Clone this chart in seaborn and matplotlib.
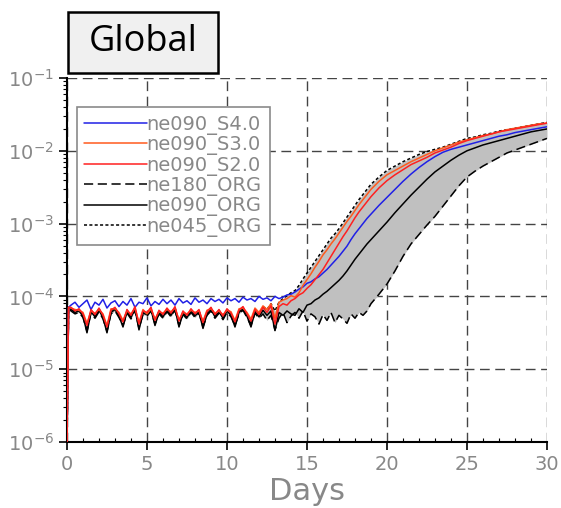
import numpy as np
import pandas as pd
import matplotlib
matplotlib.use("Agg")
import matplotlib.pyplot as plt
from matplotlib.patches import Rectangle
from matplotlib.ticker import LogLocator, MultipleLocator
import seaborn as sns

# time axis (days): start, 0.25-day steps to day 19, then 0.5-day steps to day 30
days = np.concatenate([[0.0, 0.1], np.arange(0.25, 19.01, 0.25), np.arange(19.5, 30.01, 0.5)])

# log10 of the global values
start = [-6.0, -4.15]

# days 0.25 .. 14 (noisy phase)
s40_noisy = [-4.12, -4.08, -4.15, -4.10, -4.05, -4.18, -4.08, -4.12, -4.04, -4.16, -4.09, -4.06,
             -4.14, -4.07, -4.12, -4.03, -4.15, -4.08, -4.10, -4.02, -4.13, -4.07, -4.11, -4.04,
             -4.10, -4.05, -4.12, -4.03, -4.09, -4.06, -4.11, -4.02, -4.08, -4.05, -4.10, -4.03,
             -4.07, -4.04, -4.09, -4.02, -4.06, -4.03, -4.08, -4.01, -4.05, -4.03, -4.07, -4.00,
             -4.04, -4.02, -4.06, -4.00, -4.03, -4.01, -3.98, -3.97]
s30_noisy = [-4.16, -4.18, -4.19, -4.22, -4.37, -4.20, -4.23, -4.18, -4.24, -4.40, -4.17, -4.17,
             -4.22, -4.33, -4.20, -4.24, -4.16, -4.36, -4.18, -4.24, -4.17, -4.31, -4.21, -4.23,
             -4.18, -4.21, -4.16, -4.32, -4.22, -4.24, -4.19, -4.22, -4.20, -4.34, -4.19, -4.17,
             -4.23, -4.20, -4.25, -4.19, -4.21, -4.33, -4.17, -4.16, -4.22, -4.31, -4.16, -4.22,
             -4.13, -4.18, -4.10, -4.30, -4.08, -4.05, -4.03, -3.99]
s20_noisy = [-4.15, -4.20, -4.17, -4.24, -4.40, -4.18, -4.25, -4.16, -4.26, -4.42, -4.19, -4.15,
             -4.24, -4.35, -4.18, -4.26, -4.14, -4.38, -4.20, -4.22, -4.15, -4.33, -4.19, -4.25,
             -4.16, -4.23, -4.14, -4.34, -4.20, -4.26, -4.17, -4.24, -4.18, -4.36, -4.21, -4.15,
             -4.25, -4.18, -4.27, -4.17, -4.23, -4.35, -4.19, -4.14, -4.24, -4.34, -4.18, -4.25,
             -4.15, -4.22, -4.13, -4.38, -4.14, -4.10, -4.12, -4.06]
ne180_noisy = [-4.20, -4.24, -4.22, -4.29, -4.48, -4.23, -4.30, -4.21, -4.31, -4.48, -4.24, -4.20,
               -4.29, -4.40, -4.23, -4.31, -4.19, -4.44, -4.25, -4.27, -4.20, -4.38, -4.24, -4.30,
               -4.21, -4.28, -4.19, -4.40, -4.25, -4.31, -4.22, -4.29, -4.23, -4.42, -4.26, -4.20,
               -4.30, -4.23, -4.32, -4.22, -4.28, -4.40, -4.24, -4.19, -4.29, -4.40, -4.23, -4.30,
               -4.24, -4.33, -4.26, -4.46, -4.30, -4.22, -4.36, -4.27]
ne090_noisy = [-4.18, -4.22, -4.20, -4.27, -4.50, -4.21, -4.28, -4.19, -4.29, -4.50, -4.22, -4.18,
               -4.27, -4.42, -4.21, -4.29, -4.17, -4.46, -4.23, -4.25, -4.18, -4.40, -4.22, -4.28,
               -4.19, -4.26, -4.17, -4.42, -4.23, -4.29, -4.20, -4.27, -4.21, -4.44, -4.24, -4.18,
               -4.28, -4.21, -4.30, -4.20, -4.26, -4.42, -4.22, -4.17, -4.27, -4.42, -4.21, -4.28,
               -4.19, -4.26, -4.20, -4.47, -4.22, -4.26, -4.20, -4.24]
ne045_noisy = [-4.17, -4.21, -4.18, -4.25, -4.45, -4.19, -4.26, -4.17, -4.27, -4.47, -4.20, -4.16,
               -4.25, -4.39, -4.19, -4.27, -4.15, -4.43, -4.21, -4.23, -4.16, -4.37, -4.20, -4.26,
               -4.17, -4.24, -4.15, -4.39, -4.21, -4.27, -4.18, -4.25, -4.19, -4.41, -4.22, -4.16,
               -4.26, -4.19, -4.28, -4.18, -4.24, -4.39, -4.20, -4.15, -4.25, -4.38, -4.19, -4.24,
               -4.14, -4.18, -4.10, -4.20, -4.08, -4.03, -3.99, -3.95]

# days 14.25 .. 19 (growth onset)
s40_mid = [-3.94, -3.90, -3.87, -3.82, -3.80, -3.76, -3.73, -3.68, -3.63, -3.57,
           -3.51, -3.45, -3.38, -3.31, -3.22, -3.14, -3.07, -3.00, -2.93, -2.87]
s30_mid = [-4.01, -3.95, -3.85, -3.77, -3.69, -3.60, -3.52, -3.43, -3.36, -3.28,
           -3.21, -3.13, -3.05, -2.97, -2.90, -2.82, -2.74, -2.67, -2.60, -2.53]
s20_mid = [-4.03, -3.98, -3.95, -3.89, -3.84, -3.77, -3.70, -3.63, -3.54, -3.45,
           -3.36, -3.27, -3.18, -3.10, -3.01, -2.92, -2.84, -2.77, -2.70, -2.63]
ne180_mid = [-4.22, -4.30, -4.20, -4.34, -4.24, -4.28, -4.38, -4.25, -4.33, -4.22,
             -4.36, -4.26, -4.31, -4.37, -4.24, -4.30, -4.22, -4.26, -4.20, -4.10]
ne090_mid = [-4.26, -4.17, -4.22, -4.12, -4.10, -4.05, -4.02, -3.97, -3.93, -3.88,
             -3.83, -3.78, -3.72, -3.65, -3.57, -3.49, -3.42, -3.35, -3.28, -3.22]
ne045_mid = [-3.92, -3.85, -3.76, -3.68, -3.60, -3.52, -3.44, -3.36, -3.28, -3.20,
             -3.14, -3.07, -2.99, -2.91, -2.83, -2.75, -2.67, -2.60, -2.53, -2.46]

# days 19.5 .. 30
s40_late = [-2.75, -2.64, -2.53, -2.42, -2.32, -2.23, -2.15, -2.08, -2.02, -1.98, -1.95,
            -1.92, -1.89, -1.86, -1.83, -1.80, -1.78, -1.75, -1.73, -1.71, -1.69, -1.67]
s30_late = [-2.42, -2.33, -2.27, -2.21, -2.15, -2.10, -2.05, -2.00, -1.96, -1.92, -1.88,
            -1.85, -1.82, -1.79, -1.77, -1.74, -1.71, -1.69, -1.67, -1.65, -1.63, -1.62]
s20_late = [-2.51, -2.41, -2.33, -2.26, -2.19, -2.14, -2.09, -2.03, -1.99, -1.95, -1.90,
            -1.86, -1.83, -1.80, -1.77, -1.74, -1.72, -1.70, -1.68, -1.66, -1.64, -1.62]
ne180_late = [-3.97, -3.83, -3.65, -3.45, -3.28, -3.15, -3.02, -2.90, -2.76, -2.62, -2.48,
              -2.36, -2.28, -2.21, -2.15, -2.09, -2.03, -1.99, -1.95, -1.91, -1.87, -1.83]
ne090_late = [-3.10, -2.98, -2.85, -2.73, -2.61, -2.50, -2.39, -2.29, -2.21, -2.13, -2.06,
              -2.00, -1.96, -1.92, -1.89, -1.86, -1.83, -1.80, -1.77, -1.74, -1.72, -1.70]
ne045_late = [-2.36, -2.27, -2.21, -2.15, -2.10, -2.05, -2.01, -1.98, -1.95, -1.91, -1.87,
              -1.83, -1.81, -1.78, -1.76, -1.73, -1.71, -1.69, -1.67, -1.65, -1.63, -1.61]

labels = ["ne090_S4.0", "ne090_S3.0", "ne090_S2.0", "ne180_ORG", "ne090_ORG", "ne045_ORG"]
colors = ["#2020e6", "#ff5a1e", "#ff2020", "black", "black", "black"]
styles = ["-", "-", "-", (0, (6, 3)), "-", (0, (2, 1.5))]

series = {
    "ne090_S4.0": start + s40_noisy + s40_mid + s40_late,
    "ne090_S3.0": start + s30_noisy + s30_mid + s30_late,
    "ne090_S2.0": start + s20_noisy + s20_mid + s20_late,
    "ne180_ORG": start + ne180_noisy + ne180_mid + ne180_late,
    "ne090_ORG": start + ne090_noisy + ne090_mid + ne090_late,
    "ne045_ORG": start + ne045_noisy + ne045_mid + ne045_late,
}
df = pd.DataFrame({name: 10 ** np.array(v) for name, v in series.items()})
df["Days"] = days

sns.set_style("white")
plt.rcParams["font.family"] = ["DejaVu Sans"]
grey = "#888888"

fig = plt.figure(figsize=(5.61, 5.08), dpi=100)
ax = fig.add_axes([0.1194, 0.1299, 0.8556, 0.7166])

# shaded range between the coarse and fine ORG runs
ax.fill_between(df["Days"], df["ne180_ORG"], df["ne045_ORG"], color="#c0c0c0", lw=0, zorder=1)

# draw back to front so the coloured runs sit on top
order = [3, 5, 4, 0, 1, 2]
handles = {}
for i in order:
    name = labels[i]
    sns.lineplot(x="Days", y=name, data=df, ax=ax, color=colors[i], linestyle=styles[i],
                 lw=1.1, estimator=None, sort=False, zorder=3)
    handles[name] = ax.lines[-1]

ax.set_yscale("log")
ax.set_xlim(0, 30)
ax.set_ylim(1e-6, 1e-1)
ax.xaxis.set_major_locator(MultipleLocator(5))
ax.xaxis.set_minor_locator(MultipleLocator(1))
ax.yaxis.set_major_locator(LogLocator(base=10, numticks=10))
ax.yaxis.set_minor_locator(LogLocator(base=10, subs=np.arange(2, 10), numticks=20))

ax.grid(True, which="major", color="#444444", linestyle=(0, (7, 4)), lw=1)
ax.set_axisbelow(True)
for side in ["top", "right"]:
    ax.spines[side].set_visible(False)
for side in ["left", "bottom"]:
    ax.spines[side].set_color("black")
    ax.spines[side].set_linewidth(1.5)

ax.tick_params(which="both", left=True, bottom=True)
ax.tick_params(axis="both", which="major", direction="out", length=6, width=1.2,
               labelsize=14, labelcolor=grey, color="black")
ax.tick_params(axis="y", which="minor", direction="out", length=3, width=0.8, color="black")
ax.tick_params(axis="x", which="minor", direction="in", length=3, width=0.8, color="black")
ax.set_xlabel("Days", fontsize=22, color=grey, labelpad=2)
ax.set_ylabel("")

leg = ax.legend([handles[n] for n in labels], labels, loc="upper left",
                bbox_to_anchor=(0.02, 0.92), fontsize=14, frameon=True, fancybox=False,
                handlelength=3.2, handletextpad=0.0, labelspacing=0.02, borderpad=0.4,
                borderaxespad=0)
leg.get_frame().set_edgecolor("#8a8a8a")
leg.get_frame().set_linewidth(1.2)
leg.get_frame().set_alpha(1)
for t in leg.get_texts():
    t.set_color(grey)

# "Global" label box
fig.patches.append(Rectangle((0.1212, 0.8563), 0.2674, 0.1201, transform=fig.transFigure,
                             facecolor="#f0f0f0", edgecolor="black", lw=1.8))
fig.text(0.1212 + 0.2674 / 2, 0.8563 + 0.1201 / 2, "Global", ha="center", va="center",
         fontsize=26, family=["Open Sans", "DejaVu Sans"], color="black")

fig.savefig("out.png", dpi=100)
